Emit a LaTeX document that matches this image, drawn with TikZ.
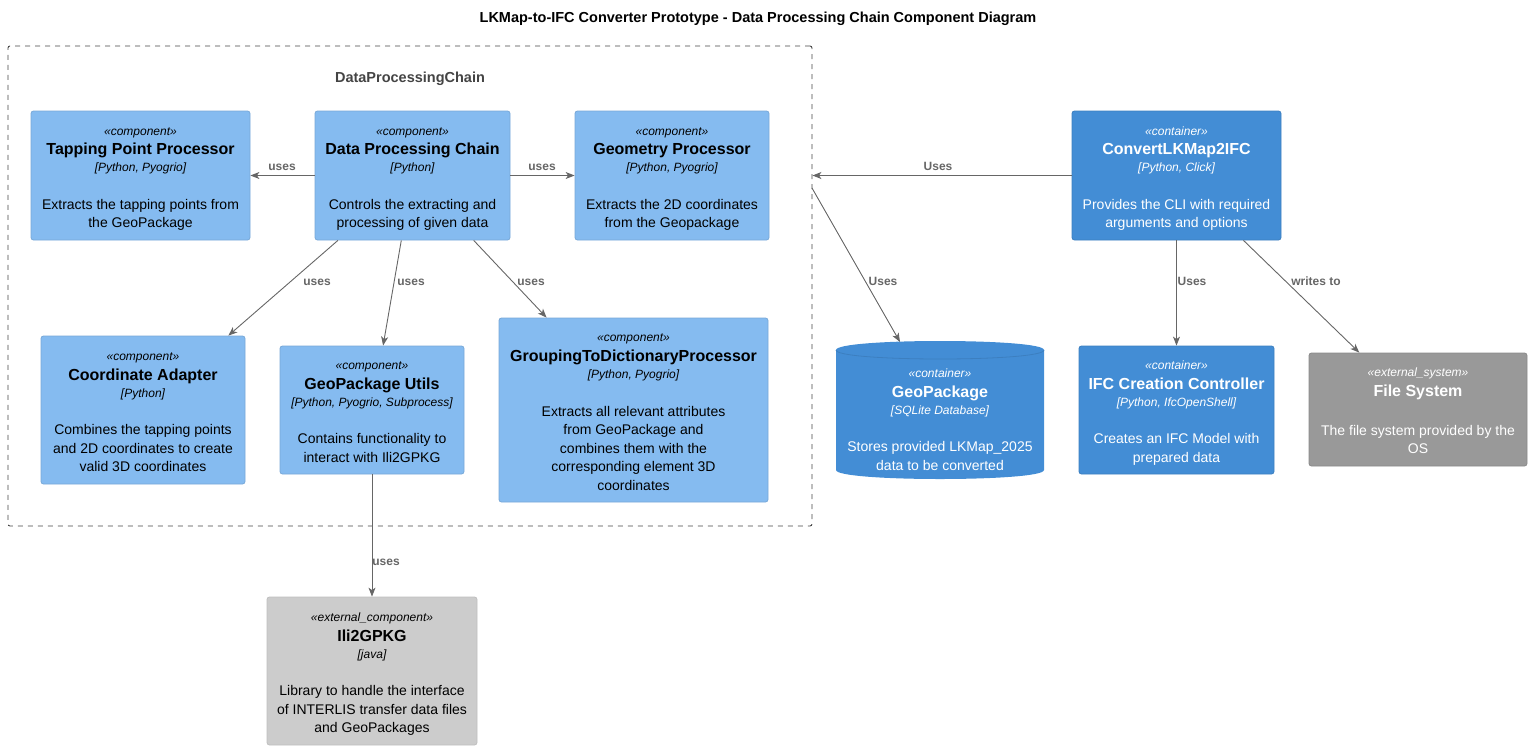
\documentclass[tikz,border=0pt]{standalone}
\usepackage{fontspec}
\setmainfont{Liberation Sans}
\usetikzlibrary{arrows.meta}
\definecolor{compfill}{HTML}{85BBF0}
\definecolor{compline}{HTML}{78A8D8}
\definecolor{contfill}{HTML}{438DD5}
\definecolor{contline}{HTML}{3C7FC0}
\definecolor{sysfill}{HTML}{999999}
\definecolor{sysline}{HTML}{8A8A8A}
\definecolor{extfill}{HTML}{CCCCCC}
\definecolor{extline}{HTML}{BFBFBF}
\definecolor{relcol}{HTML}{666666}
\definecolor{bndcol}{HTML}{444444}
% text of a box: stereotype, name, technology, description
\newcommand{\boxtxt}[4]{\rule{0pt}{15.75pt}{\fontsize{12}{18.5}\selectfont\itshape «#1»}\\[1.25pt]{\fontsize{16}{18.5}\selectfont\bfseries #2}\\[-1.5pt]{\fontsize{12}{18.5}\selectfont\itshape [#3]}\\[19pt]#4\rule[-4pt]{0pt}{4pt}}
\newcommand{\boxtxtnt}[3]{\rule{0pt}{15.75pt}{\fontsize{12}{18.5}\selectfont\itshape «#1»}\\[1.25pt]{\fontsize{16}{18.5}\selectfont\bfseries #2}\\[20.25pt]#3\rule[-4pt]{0pt}{4pt}}
\begin{document}
\begin{tikzpicture}[x=1pt, y=-1pt,
    box/.style={rectangle, rounded corners=2.5pt, align=center, inner sep=0pt, line width=0.8pt,
        font=\fontsize{14}{18.5}\selectfont},
    comp/.style={box, fill=compfill, draw=compline, text=black},
    cont/.style={box, fill=contfill, draw=contline, text=white},
    extsys/.style={box, fill=sysfill, draw=sysline, text=white},
    extcomp/.style={box, fill=extfill, draw=extline, text=black},
    rel/.style={draw=relcol, line width=0.9pt, -{Stealth[length=9pt,width=7pt,inset=2.5pt]}},
    lbl/.style={font=\fontsize{12}{14}\selectfont\bfseries, text=relcol, anchor=base}]
    \useasboundingbox (0,0) rectangle (1531,750);
    \node[font=\fontsize{14.5}{16}\selectfont\bfseries] (title) at (758,18.5)
        {LKMap-to-IFC Converter Prototype - Data Processing Chain Component Diagram};

    % boundary
    \node[draw=bndcol, dash pattern=on 5pt off 5pt, rounded corners=2pt, line width=0.9pt,
        minimum width=804pt, minimum height=480pt] (dpcb) at (410,286) {};
    \node[font=\fontsize{14.5}{16}\selectfont\bfseries, text=bndcol] (dpcblbl) at (410,79) {DataProcessingChain};

    % components
    \node[comp, minimum width=219pt, minimum height=129pt] (tpp) at (140.5,175.5)
        {\boxtxt{component}{Tapping Point Processor}{Python, Pyogrio}{Extracts the tapping points from\\the GeoPackage}};
    \node[comp, minimum width=195pt, minimum height=129pt] (dpc) at (412.5,175.5)
        {\boxtxt{component}{Data Processing Chain}{Python}{Controls the extracting and\\processing of given data}};
    \node[comp, minimum width=194pt, minimum height=129pt] (geo) at (672,175.5)
        {\boxtxt{component}{Geometry Processor}{Python, Pyogrio}{Extracts the 2D coordinates\\from the Geopackage}};
    \node[comp, minimum width=204pt, minimum height=148pt] (ca) at (143,410)
        {\boxtxt{component}{Coordinate Adapter}{Python}{Combines the tapping points\\and 2D coordinates to create\\valid 3D coordinates}};
    \node[comp, minimum width=184pt, minimum height=128pt] (gpu) at (372,410)
        {\boxtxt{component}{GeoPackage Utils}{Python, Pyogrio, Subprocess}{Contains functionality to\\interact with Ili2GPKG}};
    \node[comp, minimum width=269pt, minimum height=184pt] (grp) at (633.5,410)
        {\boxtxt{component}{GroupingToDictionaryProcessor}{Python, Pyogrio}{Extracts all relevant attributes\\from GeoPackage and\\combines them with the\\corresponding element 3D\\coordinates}};
    \node[extcomp, minimum width=210pt, minimum height=148pt] (ili) at (372,671)
        {\boxtxt{external\_component}{Ili2GPKG}{java}{Library to handle the interface\\of INTERLIS transfer data files\\and GeoPackages}};

    % containers
    \node[cont, minimum width=209pt, minimum height=129pt] (cli) at (1176.5,175.5)
        {\boxtxt{container}{ConvertLKMap2IFC}{Python, Click}{Provides the CLI with required\\arguments and options}};
    \node[cont, minimum width=195pt, minimum height=128pt] (ifc) at (1176.5,410)
        {\boxtxt{container}{IFC Creation Controller}{Python, IfcOpenShell}{Creates an IFC Model with\\prepared data}};
    \fill[contfill] (836,350) -- (836,470) .. controls (836,482) and (1044,482) .. (1044,470)
        -- (1044,350) .. controls (1044,338) and (836,338) .. (836,350) -- cycle;
    \draw[contline, line width=0.8pt] (836,350) .. controls (836,362) and (1044,362) .. (1044,350);
    \node[cont, fill=none, draw=none, minimum width=208pt] (gpkg) at (940,417.75)
        {\boxtxt{container}{GeoPackage}{SQLite Database}{Stores provided LKMap\_2025\\data to be converted}};
    \node[extsys, minimum width=218pt, minimum height=113pt] (fs) at (1418,409.5)
        {\boxtxtnt{external\_system}{File System}{The file system provided by the\\OS}};

    \coordinate (dpcbout) at (812,188);
    \coordinate (gpkgtop) at (900,342);

    % relations
    \draw[rel] (dpc) -- (tpp);
    \draw[rel] (dpc) -- (geo);
    \draw[rel] (dpc) -- (ca);
    \draw[rel] (dpc) -- (gpu);
    \draw[rel] (dpc) -- (grp);
    \draw[rel] (gpu) -- (ili);
    \draw[rel] (cli.west) -- (cli.west -| dpcb.east);
    \draw[rel] (dpcbout) -- (gpkgtop);
    \draw[rel] (cli) -- (ifc);
    \draw[rel] (cli) -- (fs);

    \node[lbl] (l1) at (282,170) {uses};
    \node[lbl] (l2) at (542,170) {uses};
    \node[lbl] (l3) at (317,285) {uses};
    \node[lbl] (l4) at (411,285) {uses};
    \node[lbl] (l5) at (531,285) {uses};
    \node[lbl] (l6) at (386,565) {uses};
    \node[lbl] (l7) at (938,170) {Uses};
    \node[lbl] (l8) at (883,285) {Uses};
    \node[lbl] (l9) at (1192,285) {Uses};
    \node[lbl] (l10) at (1316,285) {writes to};
\end{tikzpicture}
\end{document}
